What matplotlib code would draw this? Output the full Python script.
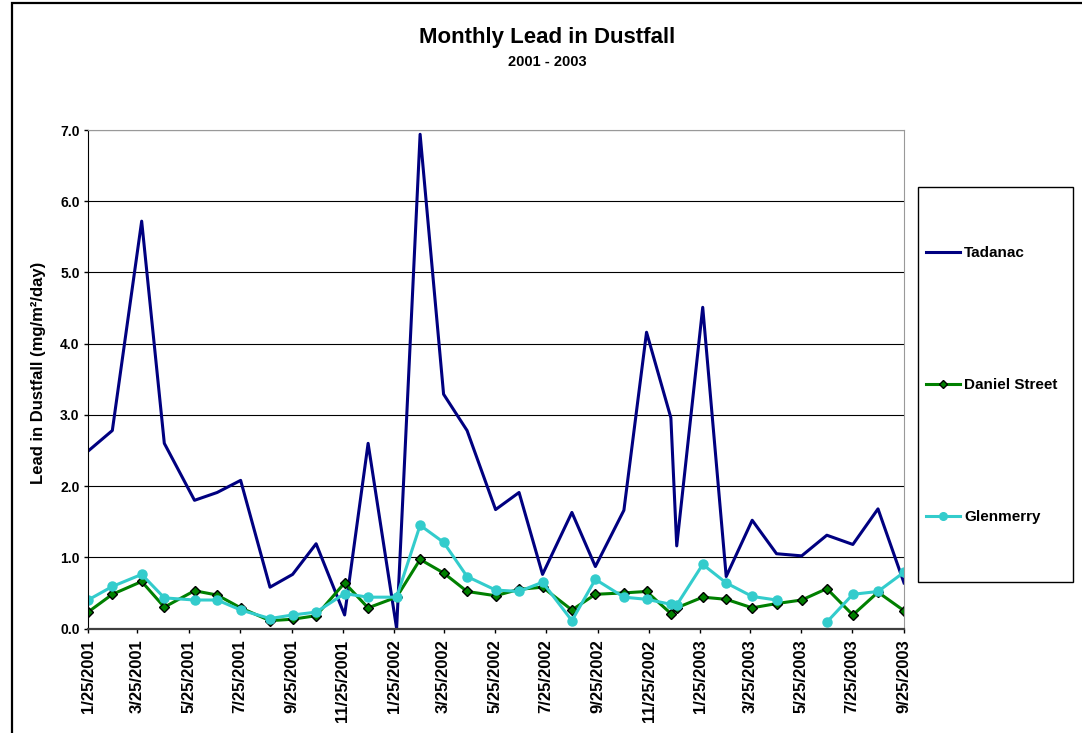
import datetime as dt

import numpy as np
import matplotlib
matplotlib.use("Agg")
from matplotlib import pyplot as plt
from matplotlib.patches import Rectangle
from matplotlib.lines import Line2D

# sampling dates of the monthly dustfall jars
sample_dates = [
    "2001-01-25", "2001-02-23", "2001-03-30", "2001-04-26", "2001-06-01", "2001-06-28",
    "2001-07-26", "2001-08-30", "2001-09-26", "2001-10-24", "2001-11-27", "2001-12-25",
    "2002-01-28", "2002-02-25", "2002-03-25", "2002-04-22", "2002-05-26", "2002-06-23",
    "2002-07-21", "2002-08-25", "2002-09-22", "2002-10-26", "2002-11-22", "2002-12-21",
    "2002-12-28", "2003-01-28", "2003-02-25", "2003-03-28", "2003-04-26", "2003-05-26",
    "2003-06-25", "2003-07-26", "2003-08-25", "2003-09-25",
]

# lead in dustfall, mg/m2/day
tadanac = [2.49, 2.78, 5.72, 2.60, 1.80, 1.91, 2.08, 0.58, 0.76, 1.19, 0.19, 2.60,
           0.00, 6.94, 3.29, 2.78, 1.67, 1.91, 0.76, 1.63, 0.87, 1.66, 4.16, 2.96,
           1.16, 4.51, 0.73, 1.52, 1.05, 1.02, 1.31, 1.18, 1.68, 0.64]
daniel_street = [0.23, 0.48, 0.66, 0.30, 0.53, 0.47, 0.29, 0.11, 0.13, 0.18, 0.64, 0.29,
                 0.44, 0.97, 0.78, 0.52, 0.46, 0.55, 0.58, 0.26, 0.48, 0.50, 0.52, 0.21,
                 0.29, 0.44, 0.41, 0.29, 0.35, 0.40, 0.56, 0.19, 0.51, 0.25]
glenmerry = [0.40, 0.59, 0.76, 0.43, 0.40, 0.40, 0.26, 0.14, 0.19, 0.23, 0.49, 0.44,
             0.44, 1.45, 1.21, 0.73, 0.54, 0.52, 0.65, 0.11, 0.69, 0.44, 0.41, 0.34,
             0.33, 0.90, 0.64, 0.45, 0.40, np.nan, 0.09, 0.48, 0.52, 0.79]

tick_dates = ["2001-01-25", "2001-03-25", "2001-05-25", "2001-07-25", "2001-09-25",
              "2001-11-25", "2002-01-25", "2002-03-25", "2002-05-25", "2002-07-25",
              "2002-09-25", "2002-11-25", "2003-01-25", "2003-03-25", "2003-05-25",
              "2003-07-25", "2003-09-25"]
tick_labels = ["1/25/2001", "3/25/2001", "5/25/2001", "7/25/2001", "9/25/2001",
               "11/25/2001", "1/25/2002", "3/25/2002", "5/25/2002", "7/25/2002",
               "9/25/2002", "11/25/2002", "1/25/2003", "3/25/2003", "5/25/2003",
               "7/25/2003", "9/25/2003"]
y_ticks = [0, 1, 2, 3, 4, 5, 6, 7]


def to_dates(values):
    return [dt.datetime.strptime(v, "%Y-%m-%d") for v in values]


plt.rcParams["font.family"] = ["Liberation Sans", "DejaVu Sans"]
plt.rcParams["font.weight"] = "bold"

fig = plt.figure(figsize=(10.82, 7.33), dpi=100)
ax = fig.add_axes([88 / 1082, 1 - 628.5 / 733, 816 / 1082, 498.5 / 733])

x = to_dates(sample_dates)
ax.plot(x, tadanac, color="#000080", lw=2.2, label="Tadanac")
ax.plot(x, daniel_street, color="#008000", lw=2.2, marker="D", ms=5,
        mfc="#008000", mec="black", mew=1.0, label="Daniel Street")
ax.plot(x, glenmerry, color="#33CCCC", lw=2.2, marker="o", ms=6.5,
        mfc="#33CCCC", mec="#33CCCC", label="Glenmerry")

ticks = to_dates(tick_dates)
ax.set_xlim(ticks[0], ticks[-1])
ax.set_xticks(ticks)
ax.set_xticklabels(tick_labels, rotation=90, fontsize=12, fontweight="bold")
ax.set_ylim(0, 7)
ax.set_yticks(y_ticks)
ax.set_yticklabels([f"{v:.1f}" for v in y_ticks], fontsize=10, fontweight="bold")
ax.tick_params(axis="both", direction="out", length=3, width=1, color="black")
ax.tick_params(axis="x", pad=5)
ax.tick_params(axis="y", pad=3)

ax.grid(axis="y", color="black", lw=0.8)
ax.set_axisbelow(True)
ax.spines["left"].set_color("black")
ax.spines["bottom"].set_color("#404040")
ax.spines["bottom"].set_linewidth(1.6)
ax.spines["top"].set_color("#999999")
ax.spines["right"].set_color("#999999")

ax.set_ylabel("Lead in Dustfall (mg/m²/day)", fontsize=12, fontweight="bold")
ax.yaxis.set_label_coords(-0.052, 0.512)

fig.text(547 / 1082, 1 - 38 / 733, "Monthly Lead in Dustfall", ha="center", va="center",
         fontsize=16, fontweight="bold")
fig.text(547 / 1082, 1 - 62 / 733, "2001 - 2003", ha="center", va="center",
         fontsize=10.5, fontweight="bold")

# legend frame drawn separately so the entries can spread over its height
fig.patches.append(Rectangle((918 / 1082, 1 - 582 / 733), 155 / 1082, 395 / 733,
                             transform=fig.transFigure, fill=False, ec="black", lw=1))
handles = [
    Line2D([], [], color="#000080", lw=2.2),
    Line2D([], [], color="#008000", lw=2.2, marker="D", ms=4, mfc="#008000", mec="black"),
    Line2D([], [], color="#33CCCC", lw=2.2, marker="o", ms=5.5, mfc="#33CCCC"),
]
fig.legend(handles, ["Tadanac", "Daniel Street", "Glenmerry"], loc="upper left",
           bbox_to_anchor=(926 / 1082, 1 - 246 / 733), frameon=False, borderpad=0,
           borderaxespad=0, labelspacing=7.72, handlelength=2.2, handletextpad=0.3,
           prop={"size": 11, "weight": "bold"})

# outer chart border
fig.patches.append(Rectangle((12 / 1082, -0.1), 1.2, 1.1 - 3 / 733,
                             transform=fig.transFigure, fill=False, ec="black", lw=1.6))

fig.savefig("out.png", dpi=100)
